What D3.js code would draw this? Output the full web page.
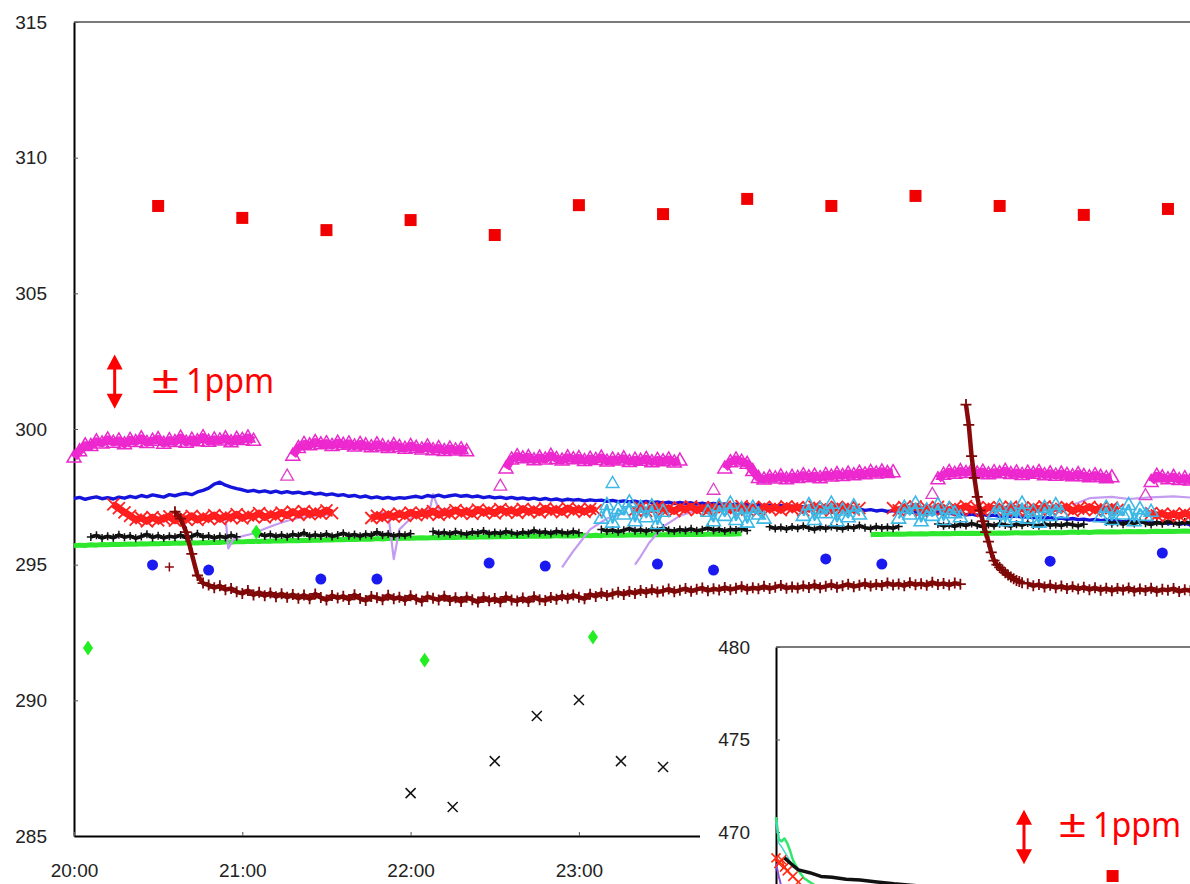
<!DOCTYPE html>
<html>
<head>
<meta charset="utf-8">
<script src="https://cdn.jsdelivr.net/npm/d3@7"></script>
<style>
  html, body { margin: 0; padding: 0; background: #fff; }
  svg { display: block; }
</style>
</head>
<body>
<svg id="chart" width="1190" height="884"></svg>
<script>
// ---------------------------------------------------------------
// Concentration record (ppm). Time is in minutes after 20:00.
// Dense series are sampled on a 2-minute grid starting at the
// given start minute; sparse series carry their own times.
// ---------------------------------------------------------------

const yTicks = [285, 290, 295, 300, 305, 310, 315];
const xTicks = [0, 60, 120, 180, 240, 300, 360];
const insetTicks = [470, 475, 480];

// Red squares (half-hourly reference reading)
const redSquareT = [30, 60, 90, 120, 150, 180, 210, 240, 270, 300, 330, 360, 390];
const redSquareV = [308.22, 307.78, 307.33, 307.70, 307.15, 308.25, 307.92, 308.48, 308.22, 308.59, 308.22, 307.89, 308.11];

// Blue dots
const blueDotT = [28, 48, 88, 108, 148, 168, 208, 228, 268, 288, 348, 388];
const blueDotV = [294.99, 294.80, 294.47, 294.47, 295.06, 294.95, 295.02, 294.80, 295.21, 295.02, 295.13, 295.43];

// Green diamonds
const greenDiamondT = [5, 65, 125, 185];
const greenDiamondV = [291.93, 296.20, 291.48, 292.33];

// Black crosses
const blackCrossT = [120, 135, 150, 165, 180, 195, 210];
const blackCrossV = [286.58, 286.07, 287.76, 289.42, 290.01, 287.76, 287.54];

// Lone dark-red plus
const brownLoneT = [34];
const brownLoneV = [294.91];

// Magenta open triangles: segment start minutes and values
const magentaStarts = [0, 78, 154, 232, 308, 384];
const magenta1 = [298.95, 299.18, 299.40, 299.38, 299.55, 299.47, 299.62, 299.50, 299.58, 299.44, 299.60, 299.52, 299.66, 299.49, 299.57, 299.63, 299.46, 299.59, 299.52, 299.68, 299.50, 299.61, 299.55, 299.70, 299.53, 299.62, 299.58, 299.66, 299.51, 299.64, 299.60, 299.69, 299.57];
const magenta2 = [299.02, 299.30, 299.45, 299.40, 299.52, 299.44, 299.48, 299.38, 299.50, 299.42, 299.47, 299.36, 299.45, 299.40, 299.33, 299.44, 299.37, 299.30, 299.41, 299.34, 299.27, 299.38, 299.31, 299.25, 299.36, 299.22, 299.30, 299.19, 299.28, 299.21, 299.26, 299.18];
const magenta3 = [298.55, 298.88, 299.00, 298.92, 298.97, 298.85, 298.95, 298.88, 299.02, 298.90, 298.84, 298.96, 298.89, 298.93, 298.82, 298.91, 298.86, 298.95, 298.80, 298.88, 298.84, 298.92, 298.79, 298.87, 298.83, 298.90, 298.78, 298.86, 298.81, 298.88, 298.77, 298.84];
const magenta4 = [298.55, 298.78, 298.88, 298.80, 298.72, 298.45, 298.20, 298.14, 298.22, 298.18, 298.26, 298.15, 298.24, 298.20, 298.30, 298.22, 298.28, 298.19, 298.31, 298.25, 298.34, 298.27, 298.36, 298.30, 298.39, 298.33, 298.42, 298.36, 298.44, 298.38, 298.41];
const magenta5 = [298.15, 298.32, 298.42, 298.35, 298.45, 298.38, 298.47, 298.36, 298.43, 298.33, 298.41, 298.37, 298.46, 298.34, 298.40, 298.31, 298.39, 298.35, 298.42, 298.30, 298.37, 298.28, 298.36, 298.31, 298.26, 298.34, 298.27, 298.22, 298.30, 298.24, 298.19, 298.22];
const magenta6 = [298.05, 298.28, 298.22, 298.15, 298.24, 298.12, 298.19, 298.10, 298.16];
const magentaLoneT = [76, 152, 228, 306, 382];
const magentaLoneV = [298.27, 297.90, 297.75, 297.60, 297.55];

// Blue line, 0..400 min
const blueLine = [
  297.44, 297.48, 297.41, 297.46, 297.50, 297.43, 297.47, 297.42, 297.49, 297.45,
  297.52, 297.47, 297.55, 297.50, 297.57, 297.53, 297.49, 297.58, 297.54, 297.60,
  297.63, 297.58, 297.68, 297.74, 297.82, 297.97, 298.04, 297.93, 297.86, 297.80,
  297.76, 297.70, 297.74, 297.68, 297.72, 297.66, 297.71, 297.65, 297.69, 297.64,
  297.67, 297.62, 297.66, 297.60, 297.63, 297.57, 297.61, 297.55, 297.58, 297.52,
  297.55, 297.49, 297.53, 297.46, 297.50, 297.44, 297.48, 297.43, 297.47, 297.45,
  297.49, 297.52, 297.47, 297.55, 297.51, 297.56, 297.50, 297.54, 297.57, 297.52,
  297.55, 297.50, 297.53, 297.47, 297.51, 297.46, 297.49, 297.44, 297.48, 297.43,
  297.46, 297.41, 297.45, 297.40, 297.44, 297.39, 297.42, 297.37, 297.41, 297.38,
  297.40, 297.35, 297.39, 297.36, 297.38, 297.33, 297.37, 297.32, 297.35, 297.31,
  297.34, 297.29, 297.33, 297.28, 297.31, 297.27, 297.30, 297.25, 297.29, 297.26,
  297.28, 297.23, 297.27, 297.22, 297.26, 297.21, 297.24, 297.20, 297.23, 297.19,
  297.22, 297.17, 297.21, 297.16, 297.19, 297.15, 297.18, 297.13, 297.16, 297.12,
  297.14, 297.10, 297.13, 297.08, 297.11, 297.06, 297.09, 297.04, 297.07, 297.02,
  297.05, 297.00, 297.03, 296.98, 297.01, 296.96, 296.99, 296.94, 296.97, 296.93,
  296.95, 296.91, 296.94, 296.89, 296.92, 296.87, 296.90, 296.85, 296.88, 296.84,
  296.86, 296.82, 296.85, 296.80, 296.83, 296.78, 296.81, 296.77, 296.79, 296.75,
  296.77, 296.73, 296.76, 296.71, 296.74, 296.69, 296.72, 296.67, 296.70, 296.66,
  296.68, 296.64, 296.67, 296.62, 296.65, 296.60, 296.63, 296.58, 296.61, 296.57,
  296.59, 296.55, 296.58, 296.53, 296.56, 296.51, 296.54, 296.49, 296.52, 296.47,
  296.48
];

// Green line: two runs
const greenStarts = [0, 284];
const green1 = [
  295.70, 295.72, 295.71, 295.73, 295.72, 295.74, 295.73, 295.75, 295.74, 295.75,
  295.76, 295.75, 295.77, 295.76, 295.78, 295.77, 295.79, 295.78, 295.80, 295.79,
  295.80, 295.81, 295.80, 295.82, 295.81, 295.83, 295.82, 295.84, 295.83, 295.85,
  295.84, 295.85, 295.86, 295.85, 295.87, 295.86, 295.88, 295.87, 295.88, 295.89,
  295.88, 295.90, 295.89, 295.91, 295.90, 295.92, 295.91, 295.93, 295.92, 295.94,
  295.93, 295.94, 295.95, 295.94, 295.96, 295.95, 295.96, 295.97, 295.96, 295.98,
  295.97, 295.98, 295.99, 295.98, 296.00, 295.99, 296.00, 296.01, 296.00, 296.01,
  296.02, 296.01, 296.02, 296.03, 296.02, 296.03, 296.04, 296.03, 296.04, 296.05,
  296.04, 296.05, 296.06, 296.05, 296.06, 296.05, 296.07, 296.06, 296.07, 296.06,
  296.07, 296.08, 296.07, 296.08, 296.07, 296.09, 296.08, 296.09, 296.08, 296.09,
  296.10, 296.09, 296.10, 296.09, 296.11, 296.10, 296.11, 296.10, 296.11, 296.12,
  296.11, 296.12, 296.11, 296.12, 296.13, 296.12, 296.13, 296.12, 296.13, 296.14
];
const green2 = [
  296.10, 296.12, 296.11, 296.13, 296.12, 296.13, 296.12, 296.14, 296.13, 296.14,
  296.13, 296.15, 296.14, 296.15, 296.14, 296.15, 296.16, 296.15, 296.16, 296.15,
  296.16, 296.17, 296.16, 296.17, 296.16, 296.17, 296.18, 296.17, 296.18, 296.17,
  296.18, 296.19, 296.18, 296.19, 296.18, 296.19, 296.20, 296.19, 296.20, 296.19,
  296.20, 296.21, 296.20, 296.21, 296.20, 296.21, 296.22, 296.21, 296.22, 296.21,
  296.22, 296.23, 296.22, 296.23, 296.22, 296.23, 296.24, 296.23, 296.24
];

// Black line: seven runs
const blackStarts = [6, 66, 128, 188, 248, 308, 368];
const black1 = [296.02, 296.08, 295.98, 296.05, 295.99, 296.10, 296.01, 296.06, 295.97, 296.04, 296.12, 296.00, 296.07, 295.98, 296.05, 296.01, 296.09, 295.99, 296.04, 296.14, 296.02, 296.06, 295.98, 296.05, 296.00, 296.08, 296.03];
const black2 = [296.14, 296.06, 296.11, 296.04, 296.09, 296.03, 296.12, 296.07, 296.18, 296.05, 296.10, 296.06, 296.13, 296.04, 296.09, 296.16, 296.07, 296.11, 296.05, 296.12, 296.08, 296.20, 296.09, 296.13, 296.06, 296.11, 296.08, 296.14];
const black3 = [296.22, 296.15, 296.19, 296.13, 296.21, 296.16, 296.12, 296.20, 296.17, 296.24, 296.14, 296.19, 296.15, 296.22, 296.18, 296.13, 296.20, 296.16, 296.26, 296.18, 296.21, 296.15, 296.23, 296.19, 296.16, 296.22, 296.18];
const black4 = [296.30, 296.24, 296.28, 296.21, 296.27, 296.33, 296.25, 296.29, 296.23, 296.31, 296.26, 296.35, 296.27, 296.24, 296.30, 296.26, 296.32, 296.25, 296.29, 296.36, 296.27, 296.31, 296.24, 296.30, 296.28, 296.33, 296.26];
const black5 = [296.40, 296.33, 296.37, 296.31, 296.39, 296.34, 296.42, 296.35, 296.30, 296.38, 296.33, 296.41, 296.36, 296.32, 296.39, 296.35, 296.44, 296.36, 296.33, 296.40, 296.35, 296.38, 296.34, 296.41];
const black6 = [296.50, 296.43, 296.47, 296.41, 296.49, 296.44, 296.52, 296.45, 296.40, 296.48, 296.43, 296.51, 296.46, 296.42, 296.49, 296.45, 296.54, 296.46, 296.43, 296.50, 296.45, 296.48, 296.44, 296.51, 296.47, 296.43, 296.49];
const black7 = [296.58, 296.51, 296.55, 296.49, 296.57, 296.52, 296.60, 296.53, 296.48, 296.56, 296.51, 296.59, 296.54, 296.50, 296.57, 296.53, 296.55];

// Red crosses: five runs
const redStarts = [14, 106, 200, 292, 384];
const red1 = [297.22, 297.08, 296.93, 296.80, 296.66, 296.72, 296.60, 296.75, 296.63, 296.70, 296.78, 296.62, 296.73, 296.67, 296.80, 296.65, 296.76, 296.70, 296.83, 296.68, 296.79, 296.73, 296.86, 296.71, 296.82, 296.76, 296.90, 296.74, 296.85, 296.79, 296.92, 296.81, 296.95, 296.84, 296.97, 296.86, 296.93, 296.88, 297.00, 296.90];
const red2 = [296.72, 296.80, 296.74, 296.85, 296.77, 296.88, 296.80, 296.92, 296.83, 296.90, 296.86, 296.97, 296.84, 296.93, 296.88, 297.01, 296.90, 296.96, 296.87, 297.03, 296.92, 296.99, 296.89, 297.05, 296.94, 297.00, 296.91, 297.06, 296.95, 297.02, 296.93, 297.07, 296.97, 297.03, 296.94, 297.08, 296.98, 297.04, 296.95, 297.06, 297.00];
const red3 = [297.02, 297.10, 296.98, 297.08, 297.13, 297.00, 297.07, 296.97, 297.11, 297.04, 297.15, 297.01, 297.09, 296.99, 297.12, 297.05, 297.14, 297.02, 297.08, 297.16, 297.03, 297.10, 296.98, 297.13, 297.06, 297.11, 297.01, 297.15, 297.07, 297.12, 297.00, 297.09, 297.14, 297.04, 297.10, 296.99, 297.13, 297.06, 297.11, 297.03, 297.08];
const red4 = [297.08, 297.00, 297.12, 297.04, 297.15, 296.98, 297.09, 297.03, 297.13, 297.06, 297.01, 297.11, 297.05, 297.16, 297.02, 297.09, 296.97, 297.12, 297.06, 297.10, 297.00, 297.14, 297.04, 297.08, 296.99, 297.11, 297.05, 297.15, 297.02, 297.09, 297.06, 297.12, 296.98, 297.07, 297.03, 297.13, 297.01, 297.08, 297.04, 297.10, 297.02];
const red5 = [296.90, 296.82, 296.88, 296.79, 296.86, 296.80, 296.89, 296.83, 296.85];

// Cyan open triangles: six runs plus a lone point
const cyanStarts = [188, 226, 260, 294, 328, 366];
const cyan1 = [296.70, 297.20, 296.55, 297.05, 296.85, 297.30, 296.60, 297.10, 296.75, 297.15, 296.50, 296.95];
const cyan2 = [296.95, 296.60, 297.15, 296.80, 297.25, 296.65, 297.05, 296.55, 297.10, 296.85, 296.70];
const cyan3 = [296.80, 297.20, 296.65, 297.05, 296.90, 297.25, 296.60, 297.00, 296.75, 297.15, 296.85];
const cyan4 = [296.70, 297.10, 296.85, 297.25, 296.60, 297.00, 296.80, 297.20, 296.65, 297.05, 296.90, 296.75];
const cyan5 = [296.85, 297.15, 296.60, 297.05, 296.75, 297.25, 296.70, 296.95, 296.55, 297.10, 296.80, 297.20, 296.90];
const cyan6 = [296.75, 297.10, 296.65, 297.00, 296.85, 297.20, 296.60, 297.05, 296.80, 296.95];
const cyanLoneT = [192];
const cyanLoneV = [298.00];

// Dark-red plus line: long run, 1-minute restart spike, then tail
const brown1Start = 36;
const brown1 = [
  296.95, 296.70, 296.20, 295.40, 294.60, 294.32, 294.25, 294.15, 294.22, 294.08,
  294.12, 294.00, 293.94, 294.05, 293.88, 293.98, 293.85, 293.96, 293.82, 293.93,
  293.80, 293.90, 293.76, 293.88, 293.74, 293.92, 293.79, 293.70, 293.86, 293.77,
  293.84, 293.72, 293.89, 293.75, 293.68, 293.83, 293.78, 293.71, 293.87, 293.74,
  293.80, 293.69, 293.85, 293.73, 293.66, 293.82, 293.76, 293.70, 293.84, 293.68,
  293.78, 293.64, 293.80, 293.71, 293.62, 293.79, 293.67, 293.75, 293.63, 293.81,
  293.70, 293.66, 293.77, 293.64, 293.82, 293.71, 293.68, 293.79, 293.73, 293.85,
  293.76, 293.88, 293.80, 293.74, 293.91, 293.83, 293.95, 293.86, 293.92, 293.98,
  293.90, 294.01, 293.94, 294.05, 293.97, 294.08, 293.99, 294.03, 294.10, 294.00,
  294.06, 294.12, 294.02, 294.09, 294.14, 294.04, 294.11, 294.07, 294.16, 294.08,
  294.13, 294.19, 294.09, 294.15, 294.11, 294.20, 294.12, 294.17, 294.23, 294.13,
  294.18, 294.14, 294.21, 294.16, 294.25, 294.15, 294.20, 294.26, 294.17, 294.22,
  294.28, 294.19, 294.24, 294.30, 294.21, 294.27, 294.23, 294.32, 294.25, 294.29,
  294.22, 294.33, 294.26, 294.30, 294.24, 294.35, 294.27, 294.31, 294.25, 294.32,
  294.28
];
const brownSpikeStart = 318; // 1-minute steps
const brownSpike = [300.90, 300.15, 299.00, 298.20, 297.50, 297.00, 296.60, 296.20, 295.85, 295.45, 295.15, 295.00, 294.90, 294.80, 294.70, 294.62, 294.55, 294.48, 294.42, 294.38, 294.33];
const brown2Start = 340;
const brown2 = [
  294.30, 294.22, 294.27, 294.18, 294.24, 294.15, 294.21, 294.12, 294.19, 294.10,
  294.17, 294.08, 294.15, 294.06, 294.13, 294.04, 294.12, 294.07, 294.14, 294.03,
  294.10, 294.05, 294.13, 294.02, 294.09, 294.06, 294.12, 294.01, 294.08, 294.04,
  294.07
];

// Lavender line (irregular times)
const lavenderAT = [50, 54, 55, 57, 60, 64, 68, 72, 76, 80, 86, 92];
const lavenderAV = [296.80, 296.80, 295.60, 295.95, 296.05, 296.15, 296.32, 296.48, 296.62, 296.72, 296.80, 296.85];
const lavenderBT = [108, 112, 114, 116, 120, 124, 127, 128, 130, 140, 160, 172];
const lavenderBV = [296.90, 296.90, 295.20, 296.30, 296.70, 296.90, 297.10, 297.60, 297.05, 297.00, 297.00, 297.00];
const lavenderCT = [174, 176, 178, 181, 184, 190, 196];
const lavenderCV = [294.90, 295.20, 295.50, 295.90, 296.30, 296.70, 296.90];
const lavenderDT = [200, 202, 205, 210, 216, 222];
const lavenderDV = [295.00, 295.30, 295.80, 296.40, 296.80, 297.00];
const lavenderET = [356, 362, 370, 376, 384, 392, 400];
const lavenderEV = [297.20, 297.45, 297.50, 297.42, 297.48, 297.52, 297.46];

// Inset panel series (minutes after start, ppm)
const insetGreenT = [0, 1, 2, 3, 4, 5, 6, 8, 10, 14, 20];
const insetGreenV = [470.80, 469.60, 469.50, 469.65, 469.40, 469.00, 468.50, 467.90, 467.50, 467.10, 466.80];
const insetCyanT = [0, 1, 2, 4, 6];
const insetCyanV = [470.60, 469.40, 469.20, 468.70, 468.10];
const insetBlackT = [3, 6, 8, 12, 16, 20, 25, 30, 36, 42, 50];
const insetBlackV = [468.60, 468.20, 467.95, 467.80, 467.60, 467.55, 467.45, 467.40, 467.30, 467.20, 467.10];
const insetRedT = [0, 1, 2, 3, 4, 6, 8];
const insetRedV = [468.60, 468.30, 468.50, 468.10, 467.90, 467.60, 467.30];
const insetPurpleT = [0, 1, 2];
const insetPurpleV = [468.30, 467.60, 467.00];
const insetSquareT = [120];
const insetSquareV = [467.62];

// ---------------------------------------------------------------
// Helpers
// ---------------------------------------------------------------
const grid = (start, step, vals) => vals.map((v, i) => ({ t: start + i * step, v }));
const pairs = (ts, vs) => ts.map((t, i) => ({ t, v: vs[i] }));

const shapes = {
  tri: s => `M0,${-0.62 * s}L${0.58 * s},${0.38 * s}L${-0.58 * s},${0.38 * s}Z`,
  times: s => `M${-s / 2},${-s / 2}L${s / 2},${s / 2}M${-s / 2},${s / 2}L${s / 2},${-s / 2}`,
  plus: s => `M${-s / 2},0H${s / 2}M0,${-s / 2}V${s / 2}`,
  square: s => `M${-s / 2},${-s / 2}h${s}v${s}h${-s}Z`,
  diamond: s => `M0,${-0.62 * s}L${0.42 * s},0L0,${0.62 * s}L${-0.42 * s},0Z`,
  circle: s => d3.symbol(d3.symbolCircle, Math.PI * s * s / 4)()
};

// ---------------------------------------------------------------
// Main panel
// ---------------------------------------------------------------
const svg = d3.select('#chart');
const x = d3.scaleLinear().domain([0, 400]).range([74, 74 + 400 * 168.3 / 60]);
const y = d3.scaleLinear().domain([285, 315]).range([836, 22]);

const line = d3.line().x(d => x(d.t)).y(d => y(d.v));

function drawLine(g, pts, color, width, opacity = 1) {
  g.append('path').datum(pts).attr('d', line)
    .attr('fill', 'none').attr('stroke', color)
    .attr('stroke-width', width).attr('stroke-opacity', opacity)
    .attr('stroke-linejoin', 'round');
}
function drawMarks(g, pts, shape, size, color, filled, sw = 1.3, xs = x, ys = y) {
  g.append('g').selectAll('path').data(pts).join('path')
    .attr('transform', d => `translate(${xs(d.t)},${ys(d.v)})`)
    .attr('d', shapes[shape](size))
    .attr('fill', filled ? color : 'none')
    .attr('stroke', filled ? 'none' : color)
    .attr('stroke-width', sw);
}

const axisFont = '"Liberation Sans", Arial, sans-serif';

// frame top edge
svg.append('line')
  .attr('x1', x(0)).attr('x2', 1190).attr('y1', y(315)).attr('y2', y(315))
  .attr('stroke', '#7a7a7a').attr('stroke-width', 2);

const yAxis = svg.append('g').attr('transform', `translate(${x(0)},0)`)
  .call(d3.axisLeft(y).tickValues(yTicks).tickSizeInner(-4).tickSizeOuter(0)
    .tickPadding(27).tickFormat(d3.format('d')));
const xAxis = svg.append('g').attr('transform', `translate(0,${y(285)})`)
  .call(d3.axisBottom(x).tickValues(xTicks).tickSizeInner(-4).tickSizeOuter(0)
    .tickPadding(28).tickFormat(d => `${20 + d / 60}:00`));
[yAxis, xAxis].forEach(a => {
  a.attr('font-family', axisFont).attr('font-size', 19);
  a.select('.domain').attr('stroke', '#000').attr('stroke-width', 2);
  a.selectAll('.tick line').attr('stroke', '#555').attr('stroke-width', 1);
  a.selectAll('.tick text').attr('fill', '#222');
});

const plot = svg.append('g');

// green line
[green1, green2].forEach((vals, i) => drawLine(plot, grid(greenStarts[i], 2, vals), '#2ee82e', 5));

// lavender line
[[lavenderAT, lavenderAV], [lavenderBT, lavenderBV], [lavenderCT, lavenderCV],
 [lavenderDT, lavenderDV], [lavenderET, lavenderEV]]
  .forEach(([ts, vs]) => drawLine(plot, pairs(ts, vs), '#c39bf0', 2.2));

// blue line
drawLine(plot, grid(0, 2, blueLine), '#1414dc', 3.4);

// black line
[black1, black2, black3, black4, black5, black6, black7].forEach((vals, i) => {
  const pts = grid(blackStarts[i], 2, vals);
  drawLine(plot, pts, '#111', 3.6);
  drawMarks(plot, pts, 'plus', 8, '#111', false, 1.5);
});

// red crosses
[red1, red2, red3, red4, red5].forEach((vals, i) => {
  const pts = grid(redStarts[i], 2, vals);
  drawLine(plot, pts, '#ff1a1a', 7);
  drawMarks(plot, pts, 'times', 12, '#ff2020', false, 1.8);
});

// magenta triangles
[magenta1, magenta2, magenta3, magenta4, magenta5, magenta6].forEach((vals, i) => {
  const pts = grid(magentaStarts[i], 2, vals);
  drawLine(plot, pts, '#f02ad2', 8);
  drawMarks(plot, pts, 'tri', 12, '#ea28cc', false, 1.5);
});
drawMarks(plot, pairs(magentaLoneT, magentaLoneV), 'tri', 11, '#e040c8', false, 1.3);

// cyan triangles
[cyan1, cyan2, cyan3, cyan4, cyan5, cyan6].forEach((vals, i) => {
  const pts = grid(cyanStarts[i], 2, vals);
  drawLine(plot, pts, '#3cb8e6', 2.5);
  drawMarks(plot, pts, 'tri', 12, '#3cb8e6', false, 1.6);
});
drawMarks(plot, pairs(cyanLoneT, cyanLoneV), 'tri', 11, '#3cb8e6', false, 1.4);

// dark-red plus line
[grid(brown1Start, 2, brown1), grid(brownSpikeStart, 1, brownSpike), grid(brown2Start, 2, brown2)]
  .forEach(pts => {
    drawLine(plot, pts, '#8a0a0a', 4.5);
    drawMarks(plot, pts, 'plus', 11, '#7d0808', false, 1.8);
  });
drawMarks(plot, pairs(brownLoneT, brownLoneV), 'plus', 9, '#8a0a0a', false, 1.5);

// sparse markers
drawMarks(plot, pairs(blueDotT, blueDotV), 'circle', 11, '#1a1af0', true);
drawMarks(plot, pairs(greenDiamondT, greenDiamondV), 'diamond', 12, '#22ee22', true);
drawMarks(plot, pairs(redSquareT, redSquareV), 'square', 12, '#f00000', true);
drawMarks(plot, pairs(blackCrossT, blackCrossV), 'times', 10, '#111', false, 1.5);

// ±1ppm note: a double arrow spanning 2 ppm and its label
function ppmNote(g, ax, cy, halfLen, tx, baseline) {
  const head = 15, hw = 8;
  g.append('line').attr('x1', ax).attr('x2', ax)
    .attr('y1', cy - halfLen + head - 1).attr('y2', cy + halfLen - head + 1)
    .attr('stroke', '#ff0000').attr('stroke-width', 3);
  g.append('path')
    .attr('d', `M${ax},${cy - halfLen}L${ax + hw},${cy - halfLen + head}L${ax - hw},${cy - halfLen + head}Z` +
               `M${ax},${cy + halfLen}L${ax + hw},${cy + halfLen - head}L${ax - hw},${cy + halfLen - head}Z`)
    .attr('fill', '#ff0000');
  const t = g.append('text').attr('y', baseline).attr('fill', '#ff0000')
    .attr('font-family', '"Noto Sans", "Open Sans", sans-serif');
  t.append('tspan').attr('x', tx).attr('font-size', 38)
    .attr('textLength', 29).attr('lengthAdjust', 'spacingAndGlyphs').text('±');
  t.append('tspan').attr('x', tx + 35).attr('font-size', 35)
    .attr('textLength', 88).attr('lengthAdjust', 'spacingAndGlyphs').text('1ppm');
}
const ppmHalf = (y(300) - y(302)) / 2;
ppmNote(svg, x(14.5), (y(300.75) + y(302.75)) / 2, ppmHalf, 151, 393);

// ---------------------------------------------------------------
// Inset panel (lower right)
// ---------------------------------------------------------------
const inset = svg.append('g');
inset.append('rect').attr('x', 700).attr('y', 630).attr('width', 490).attr('height', 254).attr('fill', '#fff');

const xi = d3.scaleLinear().domain([0, 148]).range([776, 776 + 148 * 168.3 / 60]);
const yi = d3.scaleLinear().domain([466, 480]).range([647 + 14 * 18.5, 647]);
const linei = d3.line().x(d => xi(d.t)).y(d => yi(d.v));

inset.append('line').attr('x1', xi(0)).attr('x2', 1190).attr('y1', yi(480)).attr('y2', yi(480))
  .attr('stroke', '#7a7a7a').attr('stroke-width', 2);
const yAxisI = inset.append('g').attr('transform', `translate(${xi(0)},0)`)
  .call(d3.axisLeft(yi).tickValues(insetTicks).tickSizeInner(-4).tickSizeOuter(0)
    .tickPadding(26).tickFormat(d3.format('d')));
yAxisI.attr('font-family', axisFont).attr('font-size', 19);
yAxisI.select('.domain').attr('stroke', '#000').attr('stroke-width', 2);
yAxisI.selectAll('.tick line').attr('stroke', '#555');
yAxisI.selectAll('.tick text').attr('fill', '#222');

const iplot = inset.append('g');
const iLine = (ts, vs, color, w) => iplot.append('path').datum(pairs(ts, vs)).attr('d', linei)
  .attr('fill', 'none').attr('stroke', color).attr('stroke-width', w).attr('stroke-linejoin', 'round');
iLine(insetGreenT, insetGreenV, '#2ee86a', 2.5);
iLine(insetCyanT, insetCyanV, '#40d8c8', 1.5);
iLine(insetPurpleT, insetPurpleV, '#8a50e0', 2);
iLine(insetRedT, insetRedV, '#ff2a10', 1.5);
drawMarks(iplot, pairs(insetRedT, insetRedV), 'times', 9, '#ff2a10', false, 1.5, xi, yi);
iLine(insetBlackT, insetBlackV, '#111', 3.5);
drawMarks(iplot, pairs(insetSquareT, insetSquareV), 'square', 12, '#f00000', true, 1, xi, yi);

ppmNote(inset, 1024, 837, ppmHalf, 1058, 837);
</script>
</body>
</html>
